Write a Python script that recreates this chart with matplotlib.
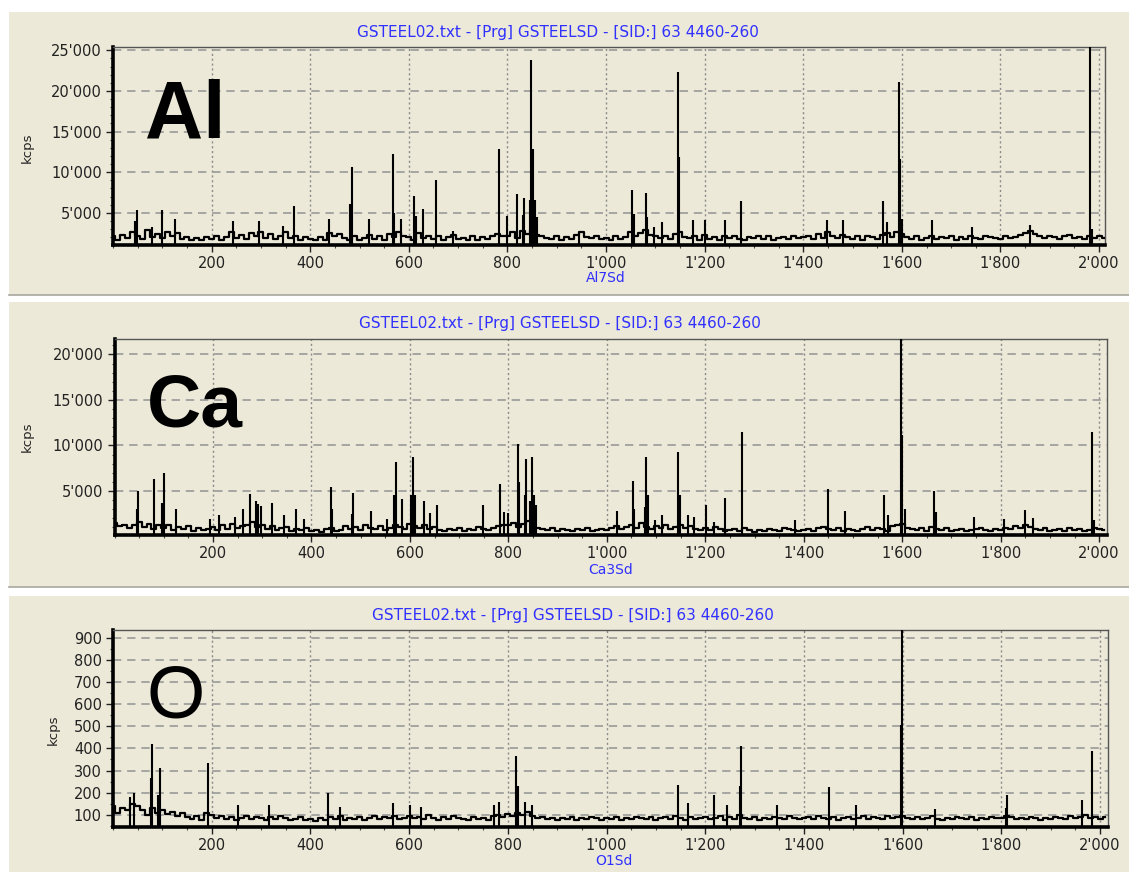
import numpy as np
import matplotlib
matplotlib.use("Agg")
import matplotlib.pyplot as plt
from matplotlib.patches import Rectangle
from matplotlib.ticker import FixedLocator, MultipleLocator, FuncFormatter

W, H = 1129, 872

title = "GSTEEL02.txt - [Prg] GSTEELSD - [SID:] 63 4460-260"
xticks = [200, 400, 600, 800, 1000, 1200, 1400, 1600, 1800, 2000]

# baseline level, one value per 10 channels (0 .. 2010)
base_x = list(range(0, 2020, 10))

al_base = [
    2100, 1700, 2300, 1900, 2600, 2200, 1800, 2900, 2000, 2400, 1900, 2700, 2100, 2500, 1800, 2000, 1700, 1900, 1600, 2000,
    1800, 2200, 1700, 2000, 2600, 1900, 2300, 1800, 2500, 2200, 2700, 1900, 2400, 1800, 2100, 2600, 1900, 2200, 1700, 2000,
    1800, 1700, 2000, 1600, 2500, 2100, 2400, 1900, 1700, 2200, 1600, 1900, 2300, 1800, 2100, 1700, 2400, 2000, 2700, 2200,
    2000, 1700, 2500, 1900, 2200, 1800, 2100, 1700, 2000, 2300, 1800, 1900, 1700, 2100, 1600, 2000, 1800, 2200, 2400, 2100,
    2200, 2600, 1900, 2800, 2400, 2900, 2300, 2100, 1900, 1800, 2100, 1700, 2000, 1800, 2300, 2600, 2000, 1900, 2200, 1800,
    1900, 1700, 2100, 1800, 2000, 2600, 2200, 2500, 2900, 2300, 2100, 1900, 2200, 1800, 2400, 2700, 2000, 1900, 2100, 1700,
    2300, 1800, 2000, 1700, 2100, 1900, 2200, 1800, 1700, 2000, 1900, 2100, 1800, 2200, 1700, 1900, 2000, 1800, 2100, 1900,
    2000, 2200, 1800, 2400, 1900, 2600, 2100, 1900, 2300, 2000, 1800, 2200, 1700, 2100, 2000, 1800, 2300, 2500, 2000, 2600,
    2400, 2000, 1800, 2100, 1700, 1900, 2200, 1800, 2000, 1900, 2100, 1700, 2000, 1800, 2200, 1900, 1800, 2100, 2000, 1900,
    1800, 2100, 1900, 2000, 2300, 2500, 2800, 2400, 2100, 1900, 2200, 2000, 1800, 2100, 2300, 1900, 2000, 1800, 2100, 1900,
    2200, 1900]

ca_base = [
    1500, 1100, 1300, 900, 1200, 1600, 1000, 1400, 800, 1200, 900, 1300, 700, 1000, 800, 1100, 600, 900, 700, 800,
    1000, 700, 1200, 800, 1400, 900, 1100, 1300, 1600, 1000, 1200, 800, 1100, 700, 900, 1000, 600, 800, 700, 900,
    600, 700, 500, 800, 900, 600, 700, 1100, 800, 1000, 700, 1200, 900, 800, 1100, 700, 900, 1300, 1000, 800,
    1400, 1100, 900, 1200, 800, 1000, 700, 600, 800, 700, 900, 600, 800, 700, 1000, 800, 700, 900, 1100, 1200,
    1300, 1500, 1000, 1400, 1700, 1200, 900, 800, 700, 900, 600, 800, 700, 600, 800, 700, 900, 600, 700, 800,
    700, 900, 1100, 800, 1000, 1300, 900, 1500, 1000, 800, 1100, 900, 1200, 800, 1000, 1300, 900, 1100, 800, 700,
    900, 700, 1000, 800, 600, 700, 800, 600, 900, 700, 500, 700, 600, 800, 700, 600, 900, 800, 700, 600,
    700, 800, 600, 900, 1000, 800, 700, 900, 600, 800, 700, 600, 800, 1000, 700, 900, 800, 600, 1100, 1300,
    1400, 900, 800, 700, 900, 600, 1000, 800, 700, 900, 600, 700, 800, 600, 700, 800, 900, 700, 600, 800,
    700, 900, 800, 1100, 900, 1200, 1000, 800, 700, 900, 600, 700, 800, 600, 900, 700, 800, 600, 700, 900,
    800, 700]

o_base = [
    140, 110, 130, 120, 150, 140, 120, 100, 130, 110, 120, 105, 115, 95, 110, 90, 80, 95, 75, 110,
    100, 85, 95, 80, 90, 75, 85, 95, 80, 90, 85, 75, 90, 80, 95, 85, 75, 80, 90, 75,
    80, 70, 85, 75, 90, 80, 95, 75, 85, 80, 90, 75, 85, 95, 80, 90, 85, 95, 80, 85,
    95, 85, 90, 80, 100, 85, 75, 90, 80, 95, 85, 80, 75, 90, 80, 85, 75, 95, 100, 90,
    105, 95, 110, 100, 115, 95, 85, 90, 80, 85, 75, 85, 80, 90, 75, 85, 80, 90, 85, 75,
    85, 80, 90, 75, 85, 80, 90, 85, 80, 90, 75, 85, 90, 80, 95, 85, 75, 90, 80, 85,
    90, 80, 85, 95, 75, 90, 80, 100, 85, 80, 90, 75, 85, 80, 90, 85, 80, 95, 85, 80,
    85, 90, 80, 95, 85, 80, 90, 75, 85, 90, 80, 85, 95, 80, 90, 85, 80, 95, 85, 90,
    95, 85, 80, 90, 80, 85, 95, 80, 75, 85, 80, 90, 85, 80, 90, 75, 85, 80, 90, 85,
    85, 95, 90, 80, 85, 80, 90, 85, 75, 85, 80, 90, 85, 80, 95, 85, 90, 100, 85, 90,
    80, 90]

# peaks: channel, height
al_peak_x = [44, 48, 80, 100, 125, 244, 296, 344, 368, 439, 480, 484, 520, 568, 570, 584, 611, 614, 628, 656,
             690, 782, 799, 819, 831, 834, 845, 848, 851, 853, 856, 860, 945, 1053, 1056, 1081, 1084, 1097, 1113,
             1145, 1148, 1177, 1201, 1241, 1273, 1449, 1481, 1562, 1569, 1594, 1597, 1601, 1662, 1743, 1859,
             1982, 1985]
al_peak_h = [4000, 5300, 3300, 5300, 4300, 4000, 4000, 3400, 5900, 4200, 6100, 10600, 4200, 12200, 5000, 4200,
             7100, 4600, 5500, 9000, 2800, 12900, 4600, 7300, 4700, 6800, 6600, 23800, 12900, 6600, 6600, 4500,
             2700, 7750, 4900, 7500, 4500, 3300, 3900, 22300, 11850, 4100, 4100, 4100, 6500, 4100, 4100, 6500,
             3900, 21100, 11650, 4200, 4100, 3300, 3500, 26000, 3000]

ca_peak_x = [45, 48, 80, 97, 100, 124, 193, 212, 244, 261, 276, 288, 291, 297, 320, 345, 368, 384, 440, 442,
             482, 484, 520, 553, 568, 572, 584, 602, 605, 607, 610, 628, 640, 656, 749, 784, 792, 800, 820, 822,
             833, 836, 843, 849, 852, 857, 1020, 1053, 1056, 1078, 1080, 1084, 1098, 1112, 1145, 1148, 1165,
             1178, 1201, 1217, 1241, 1274, 1382, 1450, 1484, 1564, 1571, 1598, 1600, 1605, 1664, 1668, 1745,
             1806, 1850, 1865, 1986, 1990]
ca_peak_h = [3050, 5000, 6300, 3700, 7000, 3050, 1900, 2300, 2100, 3050, 4700, 3900, 3600, 3300, 3700, 2300,
             3050, 1900, 5400, 3050, 2500, 4800, 2800, 1950, 4500, 8200, 4100, 4500, 4500, 8700, 4500, 3900,
             2600, 3400, 3400, 5800, 2700, 2600, 10200, 6000, 4500, 8500, 3900, 8700, 4500, 3400, 2800, 6100,
             3050, 3200, 8700, 4500, 1800, 2400, 9300, 4500, 2300, 2100, 3400, 1600, 4200, 11500, 1750, 5250,
             2750, 4500, 2400, 23000, 11100, 3050, 5000, 2700, 2100, 1900, 2900, 2000, 11500, 1750]

o_peak_x = [34, 43, 76, 80, 92, 95, 192, 253, 317, 435, 460, 568, 602, 624, 771, 783, 816, 820, 834, 849,
            1144, 1165, 1217, 1245, 1270, 1273, 1346, 1450, 1506, 1597, 1599, 1666, 1810, 1812, 1964, 1984]
o_peak_h = [182, 197, 265, 418, 190, 313, 333, 145, 145, 200, 137, 152, 145, 137, 145, 160, 365, 230, 160, 145,
            235, 152, 190, 145, 232, 412, 145, 225, 145, 505, 1000, 127, 130, 190, 165, 388]

panels = [
    # name, xlabel, base, peak x, peak h, ylim, yticks, minor step
    ("Al", "Al7Sd", al_base, al_peak_x, al_peak_h, (1100, 25450), [5000, 10000, 15000, 20000, 25000], 1000),
    ("Ca", "Ca3Sd", ca_base, ca_peak_x, ca_peak_h, (150, 21700), [5000, 10000, 15000, 20000], 1000),
    ("O", "O1Sd", o_base, o_peak_x, o_peak_h, (45, 935), [100, 200, 300, 400, 500, 600, 700, 800, 900], 50),
]

# pixel layout of each panel
bg_boxes = [(9, 12, 1129, 295), (9, 302, 1129, 587), (9, 596, 1129, 872)]
ax_boxes = [(113, 46.7, 1105, 244.5), (114.5, 339, 1107, 535), (113, 630, 1108, 827)]
xlims = [(0, 2012), (0, 2016), (0, 2016)]
title_pos = [(558, 32), (560, 323), (573, 615)]
xlab_pos = [(606, 278.5), (611, 570.5), (614, 861)]
ylab_pos = [(27, 148), (27, 437), (53, 730)]
elem_pos = [(145, 137), (147, 426), (147, 717)]
elem_size = [58, 54, 54]
elem_weight = ["bold", "bold", "normal"]

bg = "#ECE9D8"
blue = "#3030FF"

fig = plt.figure(figsize=(W / 100, H / 100), dpi=100)
fig.patch.set_facecolor("white")


def fx(x):
    return x / W


def fy(y):
    return 1 - y / H


def fmt(v, pos):
    return f"{int(round(v)):,}".replace(",", "'")


for i, (name, xl, base, pk_x, pk_h, ylim, yt, ystep) in enumerate(panels):
    x0, y0, x1, y1 = bg_boxes[i]
    fig.patches.append(Rectangle((fx(x0), fy(y1)), fx(x1 - x0), (y1 - y0) / H,
                                 transform=fig.transFigure, facecolor=bg, edgecolor="none", zorder=-10))
    if i < 2:
        fig.lines.append(plt.Line2D([fx(x0), 1], [fy(y1), fy(y1)], transform=fig.transFigure,
                                    color="#A8A8A0", lw=1.2, zorder=-9))

    l, t, r, b = ax_boxes[i]
    ax = fig.add_axes([fx(l), fy(b), (r - l) / W, (b - t) / H])
    ax.set_facecolor(bg)

    ax.step(base_x, base, where="mid", color="black", lw=1.6, zorder=3)
    ax.vlines(pk_x, ylim[0], pk_h, color="black", lw=1.5, zorder=4)

    ax.set_xlim(*xlims[i])
    ax.set_ylim(*ylim)
    ax.xaxis.set_major_locator(FixedLocator(xticks))
    ax.xaxis.set_minor_locator(MultipleLocator(50))
    ax.yaxis.set_major_locator(FixedLocator(yt))
    ax.yaxis.set_minor_locator(MultipleLocator(ystep))
    ax.xaxis.set_major_formatter(FuncFormatter(fmt))
    ax.yaxis.set_major_formatter(FuncFormatter(fmt))

    ax.tick_params(axis="both", which="major", direction="out", length=5, width=1,
                   labelsize=10.5, colors="#222222", pad=3)
    ax.tick_params(axis="x", which="major", pad=3)
    ax.tick_params(axis="both", which="minor", direction="out", length=2.5, width=0.8, colors="#444444")

    ax.grid(True, axis="y", which="major", color="#999999", lw=1.2, linestyle=(0, (5, 3.5)), zorder=1)
    ax.grid(True, axis="x", which="major", color="#8A8A8A", lw=1.0, linestyle=(0, (1.5, 2)), zorder=1)

    ax.spines["left"].set_linewidth(2.6)
    ax.spines["bottom"].set_linewidth(2.6)
    ax.spines["top"].set_linewidth(1.0)
    ax.spines["right"].set_linewidth(1.0)
    ax.spines["top"].set_color("#555555")
    ax.spines["right"].set_color("#555555")

    fig.text(fx(title_pos[i][0]), fy(title_pos[i][1]), title, color=blue, fontsize=11,
             ha="center", va="center")
    fig.text(fx(xlab_pos[i][0]), fy(xlab_pos[i][1]), xl, color=blue, fontsize=10,
             ha="center", va="center")
    fig.text(fx(ylab_pos[i][0]), fy(ylab_pos[i][1]), "kcps", color="#222222", fontsize=9.5,
             rotation=90, ha="center", va="center")
    fig.text(fx(elem_pos[i][0]), fy(elem_pos[i][1]), name, fontsize=elem_size[i],
             fontweight=elem_weight[i], family="Liberation Sans", color="black",
             ha="left", va="baseline", zorder=10)

fig.savefig("out.png", dpi=100, facecolor="white")
